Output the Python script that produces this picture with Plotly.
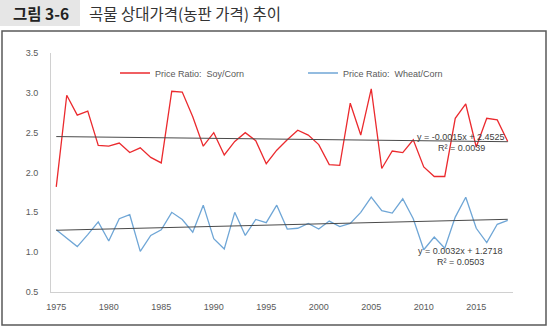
import plotly.graph_objects as go

years = list(range(1975, 2019))
soy_corn = [1.82, 2.97, 2.72, 2.77, 2.34, 2.33, 2.37, 2.25, 2.31, 2.19,
            2.12, 3.02, 3.01, 2.70, 2.33, 2.50, 2.22, 2.39, 2.50, 2.40,
            2.11, 2.28, 2.41, 2.53, 2.47, 2.35, 2.10, 2.09, 2.87, 2.47,
            3.05, 2.05, 2.27, 2.25, 2.41, 2.07, 1.95, 1.95, 2.68, 2.86,
            2.32, 2.68, 2.66, 2.39]
wheat_corn = [1.28, 1.17, 1.07, 1.22, 1.38, 1.14, 1.42, 1.47, 1.01, 1.21,
              1.28, 1.50, 1.41, 1.25, 1.59, 1.17, 1.04, 1.50, 1.21, 1.41,
              1.37, 1.59, 1.29, 1.30, 1.36, 1.29, 1.39, 1.32, 1.36, 1.50,
              1.69, 1.52, 1.49, 1.67, 1.42, 1.03, 1.19, 1.05, 1.44, 1.69,
              1.30, 1.12, 1.35, 1.40]
# trendline coefficients as printed on the chart (x = 1..44)
soy_trend = (-0.0015, 2.4525, 0.0039)
wheat_trend = (0.0032, 1.2718, 0.0503)
y_ticks = [0.5, 1.0, 1.5, 2.0, 2.5, 3.0, 3.5]
x_ticks = [1975, 1980, 1985, 1990, 1995, 2000, 2005, 2010, 2015]

title_tag = "그림 3-6"
title_text = "곡물 상대가격(농판 가격) 추이"

idx = list(range(1, len(years) + 1))
soy_fit = [soy_trend[0] * i + soy_trend[1] for i in idx]
wheat_fit = [wheat_trend[0] * i + wheat_trend[1] for i in idx]

RED = "#EB2A2E"
BLUE = "#6FA6D6"
TREND = "#4a4a4a"
TXT = "#595959"
FONT = "Liberation Sans"

fig = go.Figure()
fig.add_trace(go.Scatter(x=years, y=soy_corn, mode="lines",
                         line=dict(color=RED, width=1.3),
                         name="Price Ratio:\u00a0\u00a0Soy/Corn"))
fig.add_trace(go.Scatter(x=years, y=wheat_corn, mode="lines",
                         line=dict(color=BLUE, width=1.3),
                         name="Price Ratio:\u00a0\u00a0Wheat/Corn"))
fig.add_trace(go.Scatter(x=years, y=soy_fit, mode="lines",
                         line=dict(color=TREND, width=1), showlegend=False))
fig.add_trace(go.Scatter(x=years, y=wheat_fit, mode="lines",
                         line=dict(color=TREND, width=1), showlegend=False))

# plot area in pixels: x 51..513, y 53..292
L, R, T, B = 51, 513, 53, 292
W, H = R - L, B - T
def px(x):
    return (x - L) / W
def py(y):
    return (B - y) / H

shapes = [
    dict(type="rect", xref="paper", yref="paper",
         x0=px(0), x1=px(80), y0=py(26), y1=py(0),
         fillcolor="#e6e6e6", line=dict(width=0), layer="below"),
    dict(type="rect", xref="paper", yref="paper",
         x0=px(2), x1=px(546), y0=py(325), y1=py(31),
         fillcolor="rgba(0,0,0,0)", line=dict(color="#5a5a5a", width=1.5)),
]

annotations = [
    dict(text=f"<b>{title_tag}</b>", xref="paper", yref="paper",
         x=px(41), y=py(13), xanchor="center", yanchor="middle",
         showarrow=False, font=dict(family="Noto Sans CJK KR", size=15.5, color="#222")),
    dict(text=title_text, xref="paper", yref="paper",
         x=px(87), y=py(13), xanchor="left", yanchor="middle",
         showarrow=False, font=dict(family="Noto Sans CJK KR", size=15.5, color="#333")),
    dict(text=f"y = {soy_trend[0]:.4f}x + {soy_trend[1]:.4f}", xref="paper", yref="paper",
         x=px(461), y=py(137), xanchor="center", yanchor="middle", showarrow=False,
         font=dict(family=FONT, size=9, color="#404040")),
    dict(text=f"R² = {soy_trend[2]:.4f}", xref="paper", yref="paper",
         x=px(461), y=py(148), xanchor="center", yanchor="middle", showarrow=False,
         font=dict(family=FONT, size=9, color="#404040")),
    dict(text=f"y = {wheat_trend[0]:.4f}x + {wheat_trend[1]:.4f}", xref="paper", yref="paper",
         x=px(460), y=py(251), xanchor="center", yanchor="middle", showarrow=False,
         font=dict(family=FONT, size=9, color="#404040")),
    dict(text=f"R² = {wheat_trend[2]:.4f}", xref="paper", yref="paper",
         x=px(460), y=py(262), xanchor="center", yanchor="middle", showarrow=False,
         font=dict(family=FONT, size=9, color="#404040")),
]

fig.update_layout(
    width=549, height=331,
    margin=dict(l=L, r=549 - R, t=T, b=331 - B, pad=0),
    paper_bgcolor="white", plot_bgcolor="white",
    font=dict(family=FONT, size=9, color=TXT),
    showlegend=True,
    legend=dict(orientation="h", x=px(115), y=py(73), xanchor="left", yanchor="middle",
                entrywidth=143, entrywidthmode="pixels",
                font=dict(family=FONT, size=9, color=TXT),
                bgcolor="rgba(0,0,0,0)", itemwidth=30, tracegroupgap=0),
    xaxis=dict(range=[1974.5, 2018.5], tickvals=x_ticks, showgrid=False,
               showline=True, linecolor="#d0d0d0", linewidth=1, ticks="",
               zeroline=False, ticklabelstandoff=6, tickfont=dict(size=9, color=TXT)),
    yaxis=dict(range=[0.5, 3.5], tickvals=y_ticks, tickformat=".1f", showgrid=False,
               showline=True, linecolor="#d0d0d0", linewidth=1, ticks="",
               zeroline=False, ticklabelstandoff=10, tickfont=dict(size=9, color=TXT)),
    shapes=shapes, annotations=annotations,
)

fig.write_html("out.html")
